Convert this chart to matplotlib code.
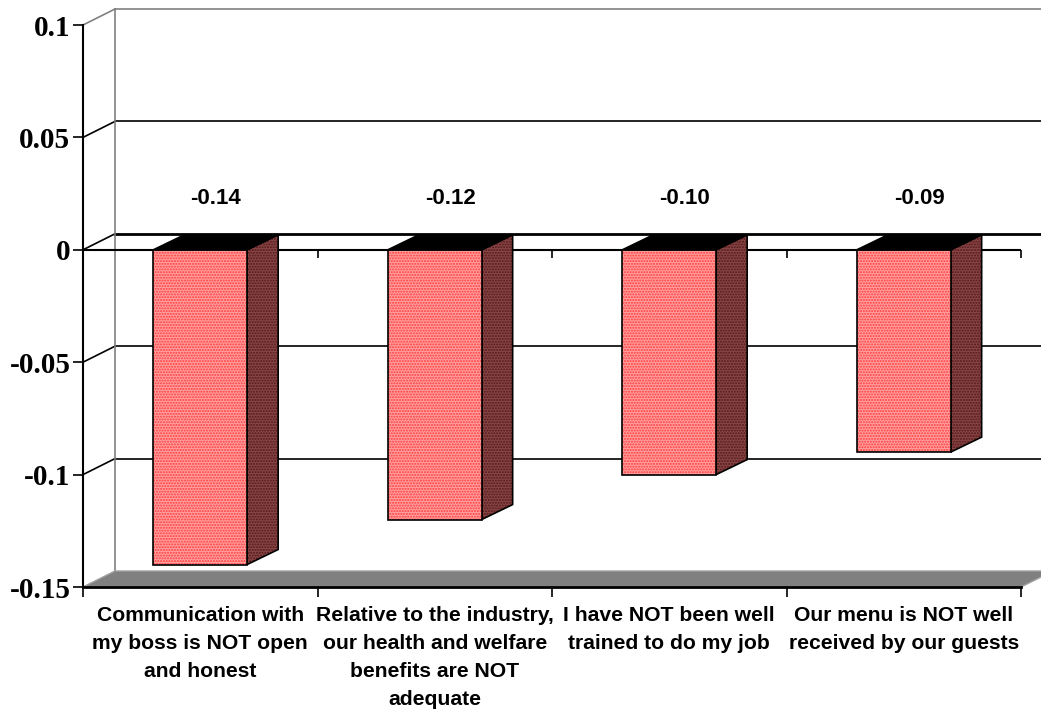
import matplotlib.pyplot as plt
from matplotlib.patches import Polygon
from matplotlib.markers import TICKDOWN

categories = [
    "Communication with\nmy boss is NOT open\nand honest",
    "Relative to the industry,\nour health and welfare\nbenefits are NOT\nadequate",
    "I have NOT been well\ntrained to do my job",
    "Our menu is NOT well\nreceived by our guests",
]
values = [-0.14, -0.12, -0.10, -0.09]
yticks = [-0.15, -0.1, -0.05, 0, 0.05, 0.1]
ytick_labels = ["-0.15", "-0.1", "-0.05", "0", "0.05", "0.1"]

fig = plt.figure(figsize=(10.41, 7.11), dpi=100)
ax = fig.add_axes([83 / 1041, 1 - 587 / 711, (1021 - 83) / 1041, (587 - 25) / 711])
n = len(categories)
ax.set_xlim(0, n)
ax.set_ylim(yticks[0], yticks[-1])
for s in ["top", "right"]:
    ax.spines[s].set_visible(False)

# 3d depth offsets, pixels -> data units
def px_offset(dx, dy):
    inv = ax.transData.inverted()
    x0, y0 = ax.transData.transform((0, 0))
    return inv.transform((x0 + dx, y0 + dy))

wdx, wdy = px_offset(32, 16)   # walls
bdx, bdy = px_offset(31, 15)   # bars
ymin, ymax = yticks[0], yticks[-1]

# back wall + side wall gridlines
for y in yticks[1:]:
    col = "#808080" if y == ymax else "black"
    lw = 2.0 if y == 0 else 1.2
    ax.plot([wdx, n + wdx], [y + wdy, y + wdy], color=col, lw=lw, clip_on=False, zorder=1)
    ax.plot([0, wdx], [y, y + wdy], color=col, lw=1.2, clip_on=False, zorder=1)
ax.plot([wdx, wdx], [ymin + wdy, ymax + wdy], color="#808080", lw=1.2, clip_on=False, zorder=1)

# floor
floor = Polygon([(0, ymin), (n, ymin), (n + wdx, ymin + wdy), (wdx, ymin + wdy)],
                closed=True, facecolor="#808080", edgecolor="#a0a0a0", lw=1, clip_on=False, zorder=2)
ax.add_patch(floor)

# front zero line with ticks
ax.plot([0, n], [0, 0], color="black", lw=1.5, zorder=2)
ax.plot(range(1, n + 1), [0] * n, ls="none", marker=TICKDOWN, ms=6, mew=1.2, color="black", zorder=2)

# bars
w = 0.4
for i, v in enumerate(values):
    x0 = i + 0.5 - w / 2
    x1 = i + 0.5 + w / 2
    front = [(x0, 0), (x1, 0), (x1, v), (x0, v)]
    side = [(x1, 0), (x1 + bdx, bdy), (x1 + bdx, v + bdy), (x1, v)]
    top = [(x0, 0), (x1, 0), (x1 + bdx, bdy), (x0 + bdx, bdy)]
    ax.add_patch(Polygon(side, facecolor="#8a4545", edgecolor="#501818", hatch="......", lw=0, zorder=3))
    ax.add_patch(Polygon(side, fill=False, edgecolor="black", lw=1.2, zorder=3))
    ax.add_patch(Polygon(front, facecolor="#ffa0a0", edgecolor="#ff3a3a", hatch="......", lw=0, zorder=3))
    ax.add_patch(Polygon(front, fill=False, edgecolor="black", lw=1.2, zorder=3))
    ax.add_patch(Polygon(top, facecolor="black", edgecolor="black", lw=1.2, zorder=3))
    ax.annotate(f"{v:.2f}", xy=(i + 0.5 + bdx / 2, 0), xytext=(0, 51), textcoords="offset pixels",
                ha="center", va="center", fontsize=16, fontweight="bold",
                family="Liberation Sans", zorder=4)

# category labels under the floor
for i, lab in enumerate(categories):
    ax.annotate(lab, xy=(i + 0.5, ymin), xytext=(0, -19), textcoords="offset pixels",
                ha="center", va="top", ma="center", fontsize=15.2, fontweight="bold",
                family="Liberation Sans", linespacing=1.6, annotation_clip=False)

# axes
ax.spines["left"].set_linewidth(1.5)
ax.spines["bottom"].set_linewidth(2)
ax.spines["left"].set_zorder(5)
ax.spines["bottom"].set_zorder(5)
ax.set_yticks(yticks)
ax.set_yticklabels(ytick_labels, family="Liberation Serif", fontweight="bold", fontsize=21)
ax.tick_params(axis="y", length=7, width=1.2, pad=2)
ax.set_xticks(range(n + 1))
ax.set_xticklabels([])
ax.tick_params(axis="x", length=7, width=1.2)

fig.savefig("out.png", dpi=100)
